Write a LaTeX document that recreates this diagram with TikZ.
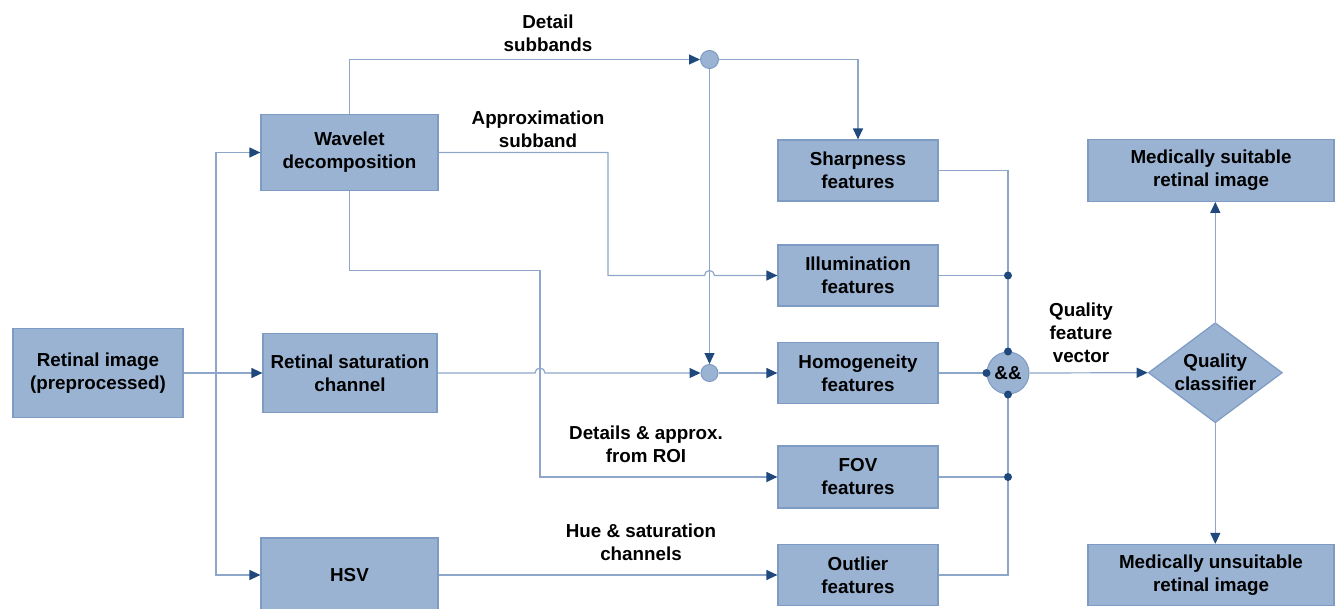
\documentclass[tikz,border=0pt]{standalone}
\usepackage{fontspec}
\setmainfont{Liberation Sans}
\usetikzlibrary{arrows.meta,shapes.geometric,calc}
\definecolor{boxfill}{HTML}{9AB3D3}
\definecolor{boxline}{HTML}{7E9BC3}
\definecolor{wire}{HTML}{8EA6C9}
\definecolor{tipc}{HTML}{1F497D}
\tikzset{
  every node/.style={font=\fontsize{18.8}{23}\selectfont\bfseries},
  blk/.style={draw=boxline, fill=boxfill, line width=1.2pt, inner sep=0pt, align=center},
  wireline/.style={draw=wire, line width=1.2pt},
  arr/.style={wireline, -{Triangle[length=11pt,width=10pt,color=tipc]}},
  dotn/.style={circle, fill=tipc, inner sep=0pt, minimum size=8pt},
  junc/.style={circle, draw=boxline, fill=boxfill, line width=1pt, inner sep=0pt},
  lbl/.style={align=center, inner sep=0pt},
}
\begin{document}
\begin{tikzpicture}[x=1pt,y=-1pt]
\useasboundingbox (0,0) rectangle (1336,608);
\clip (0,0) rectangle (1336,608);
% boxes
\node[blk, minimum width=170pt, minimum height=89pt] (ret) at (98,373) {Retinal image\\(preprocessed)};
\node[blk, minimum width=177pt, minimum height=76pt] (wav) at (349.5,152.5) {Wavelet\\decomposition};
\node[blk, minimum width=174pt, minimum height=79pt] (sat) at (350,373) {Retinal saturation\\channel};
\node[blk, minimum width=177pt, minimum height=74pt] (hsv) at (349.5,575) {HSV};
\node[blk, minimum width=160pt, minimum height=61pt] (sh) at (858,170.5) {Sharpness\\features};
\node[blk, minimum width=160pt, minimum height=61pt] (il) at (858,275.5) {Illumination\\features};
\node[blk, minimum width=160pt, minimum height=61pt] (ho) at (858,373) {Homogeneity\\features};
\node[blk, minimum width=160pt, minimum height=62pt] (fov) at (858,477) {FOV\\features};
\node[blk, minimum width=160pt, minimum height=61pt] (out) at (858,575) {Outlier\\features};
\node[blk, minimum width=246pt, minimum height=62pt] (su) at (1211,170.3) {Medically suitable\\retinal image};
\node[blk, minimum width=246pt, minimum height=61pt] (un) at (1211,575) {Medically unsuitable\\retinal image};
\node[blk, diamond, minimum width=134pt, minimum height=100pt] (qc) at (1215.3,372.7) {};
\node[lbl] (qct) at (qc) {Quality\\classifier};
% junctions
\node[junc, minimum size=18pt] (c1) at (709.5,59.5) {};
\node[junc, minimum size=17pt] (c2) at (709.5,373) {};
\node[junc, minimum size=42pt] (c3) at (1008,373) {\&\&};
% helper coordinates
\coordinate (bx) at (216,0);
\coordinate (ax) at (608,0);
\coordinate (lx) at (540,0);
\coordinate (ly) at (0,270.5);
% input distribution
\draw[arr] (ret.east) -- (sat.west);
\draw[arr] (bx |- ret.east) |- (wav.west);
\draw[arr] (bx |- ret.east) |- (hsv.west);
% detail subbands
\draw[arr] (wav.north) |- (c1.west);
\draw[arr] (c1.east) -| (sh.north);
\draw[arr] (c1.south) -- (c2.north);
% approximation subband
\draw[arr] (wav.east) -| (ax |- il.west) -- ($(c1 |- il.west)+(-5,0)$) arc[start angle=180, end angle=360, radius=5] -- (il.west);
% details from ROI
\draw[arr] (wav.south) |- (lx |- ly) -- (lx |- fov.west) -- (fov.west);
% saturation
\draw[arr] (sat.east) -- ($(lx |- sat.east)+(-5,0)$) arc[start angle=180, end angle=360, radius=5] -- (c2.west);
\draw[arr] (c2.east) -- (ho.west);
% HSV
\draw[arr] (hsv.east) -- (out.west);
% feature bus
\draw[wireline] (sh.east) -| (c3.north);
\draw[wireline] (il.east) -- (il.east -| c3.north);
\draw[wireline] (ho.east) -- (c3.west);
\draw[wireline] (fov.east) -- (fov.east -| c3.south);
\draw[wireline] (out.east) -| (c3.south);
\node[dotn] (d1) at (il.east -| c3.north) {};
\node[dotn] (d2) at (fov.east -| c3.south) {};
\node[dotn] (d3) at (c3.north) {};
\node[dotn] (d4) at (c3.west) {};
\node[dotn] (d5) at (c3.south) {};
% classifier
\draw[arr] (c3.east) -- (qc.west);
\draw[arr] (qc.north) -- (qc.north |- su.south);
\draw[arr] (qc.south) -- (qc.south |- un.north);
% labels
\node[lbl] (l1) at (548,33) {Detail\\subbands};
\node[lbl] (l2) at (538,129) {Approximation\\subband};
\node[lbl] (l3) at (646,444) {Details \& approx.\\from ROI};
\node[lbl] (l4) at (641,542) {Hue \& saturation\\channels};
\node[lbl] (l5) at (1081,332.5) {Quality\\feature\\vector};
\end{tikzpicture}
\end{document}
